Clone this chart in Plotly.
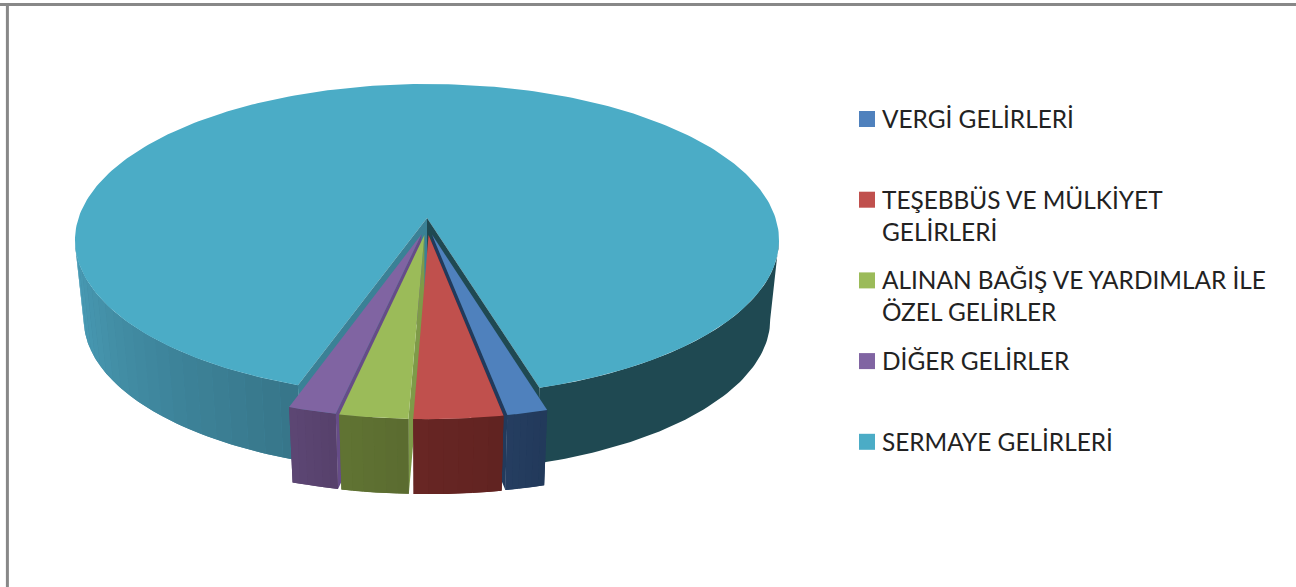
import numpy as np
import plotly.graph_objects as go

# ---- data (percent shares) ----
labels = ["VERGİ GELİRLERİ", "TEŞEBBÜS VE MÜLKİYET<br>GELİRLERİ",
          "ALINAN BAĞIŞ VE YARDIMLAR İLE<br>ÖZEL GELİRLER", "DİĞER GELİRLER", "SERMAYE GELİRLERİ"]
values = [1.6, 3.5, 2.7, 1.9, 90.3]
top_colors = ["#4f81bd", "#c0504d", "#9bbb59", "#8064a2", "#4bacc6"]
side_colors = ["#243c5e", "#652523", "#5e7032", "#5a4470", "#1f4952"]
wall_colors = ["#223a5c", "#652523", "#7e9a48", "#664c88", "#1f4952"]
explode = [0.11, 0.11, 0.11, 0.11, 0.0]

# ---- pie projection ----
CX, CY = 427, 218
A, B, K = 348.5, 152.9, 0.141
DZ, S = 80, 0.975
START = 16.2
EXPLODE_U = 0.55
RIM_LIMIT = 82  # angle where the rim reaches its widest point on screen


def proj(u, v, low=False):
    w = 1 + K * np.asarray(v)
    X, Y = A * np.asarray(u) / w, B * np.asarray(v) / w
    if low:
        return CX + S * X, CY + DZ - S * Y
    return CX + X, CY - Y


def arc(t0, t1, n, d=(0, 0)):
    t = np.radians(np.linspace(t0, t1, n))
    return np.sin(t) + d[0], -np.cos(t) + d[1]


def mix(c0, c1, f):
    return "rgb(%d,%d,%d)" % tuple(round(a + (b - a) * f) for a, b in zip(c0, c1))


fig = go.Figure()


def poly(x, y, color, width=0.0):
    fig.add_trace(go.Scatter(x=np.r_[x, x[0]], y=np.r_[y, y[0]], mode="lines", fill="toself",
                             fillcolor=color, line=dict(color=color, width=width),
                             hoverinfo="skip", showlegend=False))


def facet(t0, t1, d, color, n=4):
    u, v = arc(t0, t1, n, d)
    x1, y1 = proj(u, v)
    x2, y2 = proj(u[::-1], v[::-1], True)
    poly(np.r_[x1, x2], np.r_[y1, y2], color)


def cut_wall(t, d, color):
    u, v = arc(t, t, 1, d)
    pu, pv = np.r_[d[0], u], np.r_[d[1], v]
    x1, y1 = proj(pu, pv)
    x2, y2 = proj(pu[::-1], pv[::-1], True)
    poly(np.r_[x1, x2], np.r_[y1, y2], color)


def top(t0, t1, d, color):
    u, v = arc(t0, t1, 300 if abs(t1 - t0) > 100 else 24, d)
    x, y = proj(np.r_[d[0], u], np.r_[d[1], v])
    poly(x, y, color)


# slice angle ranges: t falls clockwise from the start angle, 0 = nearest point
edges = START - np.r_[0, np.cumsum(values)] * 3.6
span = {i: (edges[i], edges[i + 1]) for i in range(5)}


def offset(i):
    m = np.radians(sum(span[i]) / 2)
    return EXPLODE_U * explode[i] * np.sin(m), -explode[i] * np.cos(m)


# main slice: outer wall either side of the notch
left_edge, right_edge = span[4][0], span[4][1] + 360
facet(right_edge, RIM_LIMIT, (0, 0), side_colors[4], 60)
left_light, left_dark = (74, 158, 184), (55, 118, 138)
facet(left_edge, -RIM_LIMIT, (0, 0), "rgb(64,136,160)", 60)
stops = np.linspace(left_edge, -RIM_LIMIT, 23)
for n in range(22):
    f = n / 21
    facet(stops[n + 1], stops[n], (0, 0), mix(left_dark, left_light, f))
top(span[4][0], span[4][1], (0, 0), top_colors[4])
cut_wall(right_edge, (0, 0), side_colors[4])
cut_wall(left_edge, (0, 0), "#3a8196")

# exploded slices, back to front
wall_edge = {0: span[0][1], 3: span[3][0], 2: span[2][0], 1: span[1][0]}
for i in [3, 0, 2, 1]:
    d = offset(i)
    cut_wall(wall_edge[i], d, wall_colors[i])
    a0, a1 = span[i]
    facet(a0, a1, d, side_colors[i], 24)
    steps = np.linspace(a0, a1, 7)
    base = np.array([int(side_colors[i][j:j + 2], 16) for j in (1, 3, 5)])
    for n in range(6):
        f = 0.97 + 0.06 * n / 5
        facet(steps[n], steps[n + 1], d, "rgb(%d,%d,%d)" % tuple(np.clip(base * f, 0, 255)))
    top(a0, a1, d, top_colors[i])

# legend block, drawn at its place in the picture
KEY_X, TEXT_X, KEY_Y0, KEY_PITCH = 867, 880.5, 119, 80.7
key_y = [KEY_Y0 + KEY_PITCH * i for i in range(len(labels))]
fig.add_trace(go.Scatter(x=[KEY_X] * len(labels), y=key_y, mode="markers",
                         marker=dict(symbol="square", size=16, color=top_colors, line=dict(width=0)),
                         text=[l.replace("<br>", " ") for l in labels], hoverinfo="text", showlegend=False))
annotations = [dict(x=TEXT_X, y=y - 16, xref="x", yref="y", text=lab, showarrow=False, xanchor="left",
                    yanchor="top", align="left", borderpad=0,
                    font=dict(family="Lato, 'Noto Sans', sans-serif", size=24.4, color="#222222"))
               for lab, y in zip(labels, key_y)]

fig.update_layout(
    width=1296, height=587, margin=dict(l=0, r=0, t=0, b=0), showlegend=False,
    paper_bgcolor="white", plot_bgcolor="white",
    xaxis=dict(range=[0, 1296], visible=False, fixedrange=True),
    yaxis=dict(range=[587, 0], visible=False, fixedrange=True),
    annotations=annotations,
    shapes=[
        dict(type="line", xref="paper", yref="paper", x0=0, x1=1, y0=1 - 4.5 / 587, y1=1 - 4.5 / 587,
             line=dict(color="#888888", width=3)),
        dict(type="line", xref="paper", yref="paper", x0=7.4 / 1296, x1=7.4 / 1296, y0=0, y1=1 - 3 / 587,
             line=dict(color="#888888", width=3)),
    ],
)
fig.write_html("out.html", post_script="document.body.style.margin='0';",
               config={"displayModeBar": False})
